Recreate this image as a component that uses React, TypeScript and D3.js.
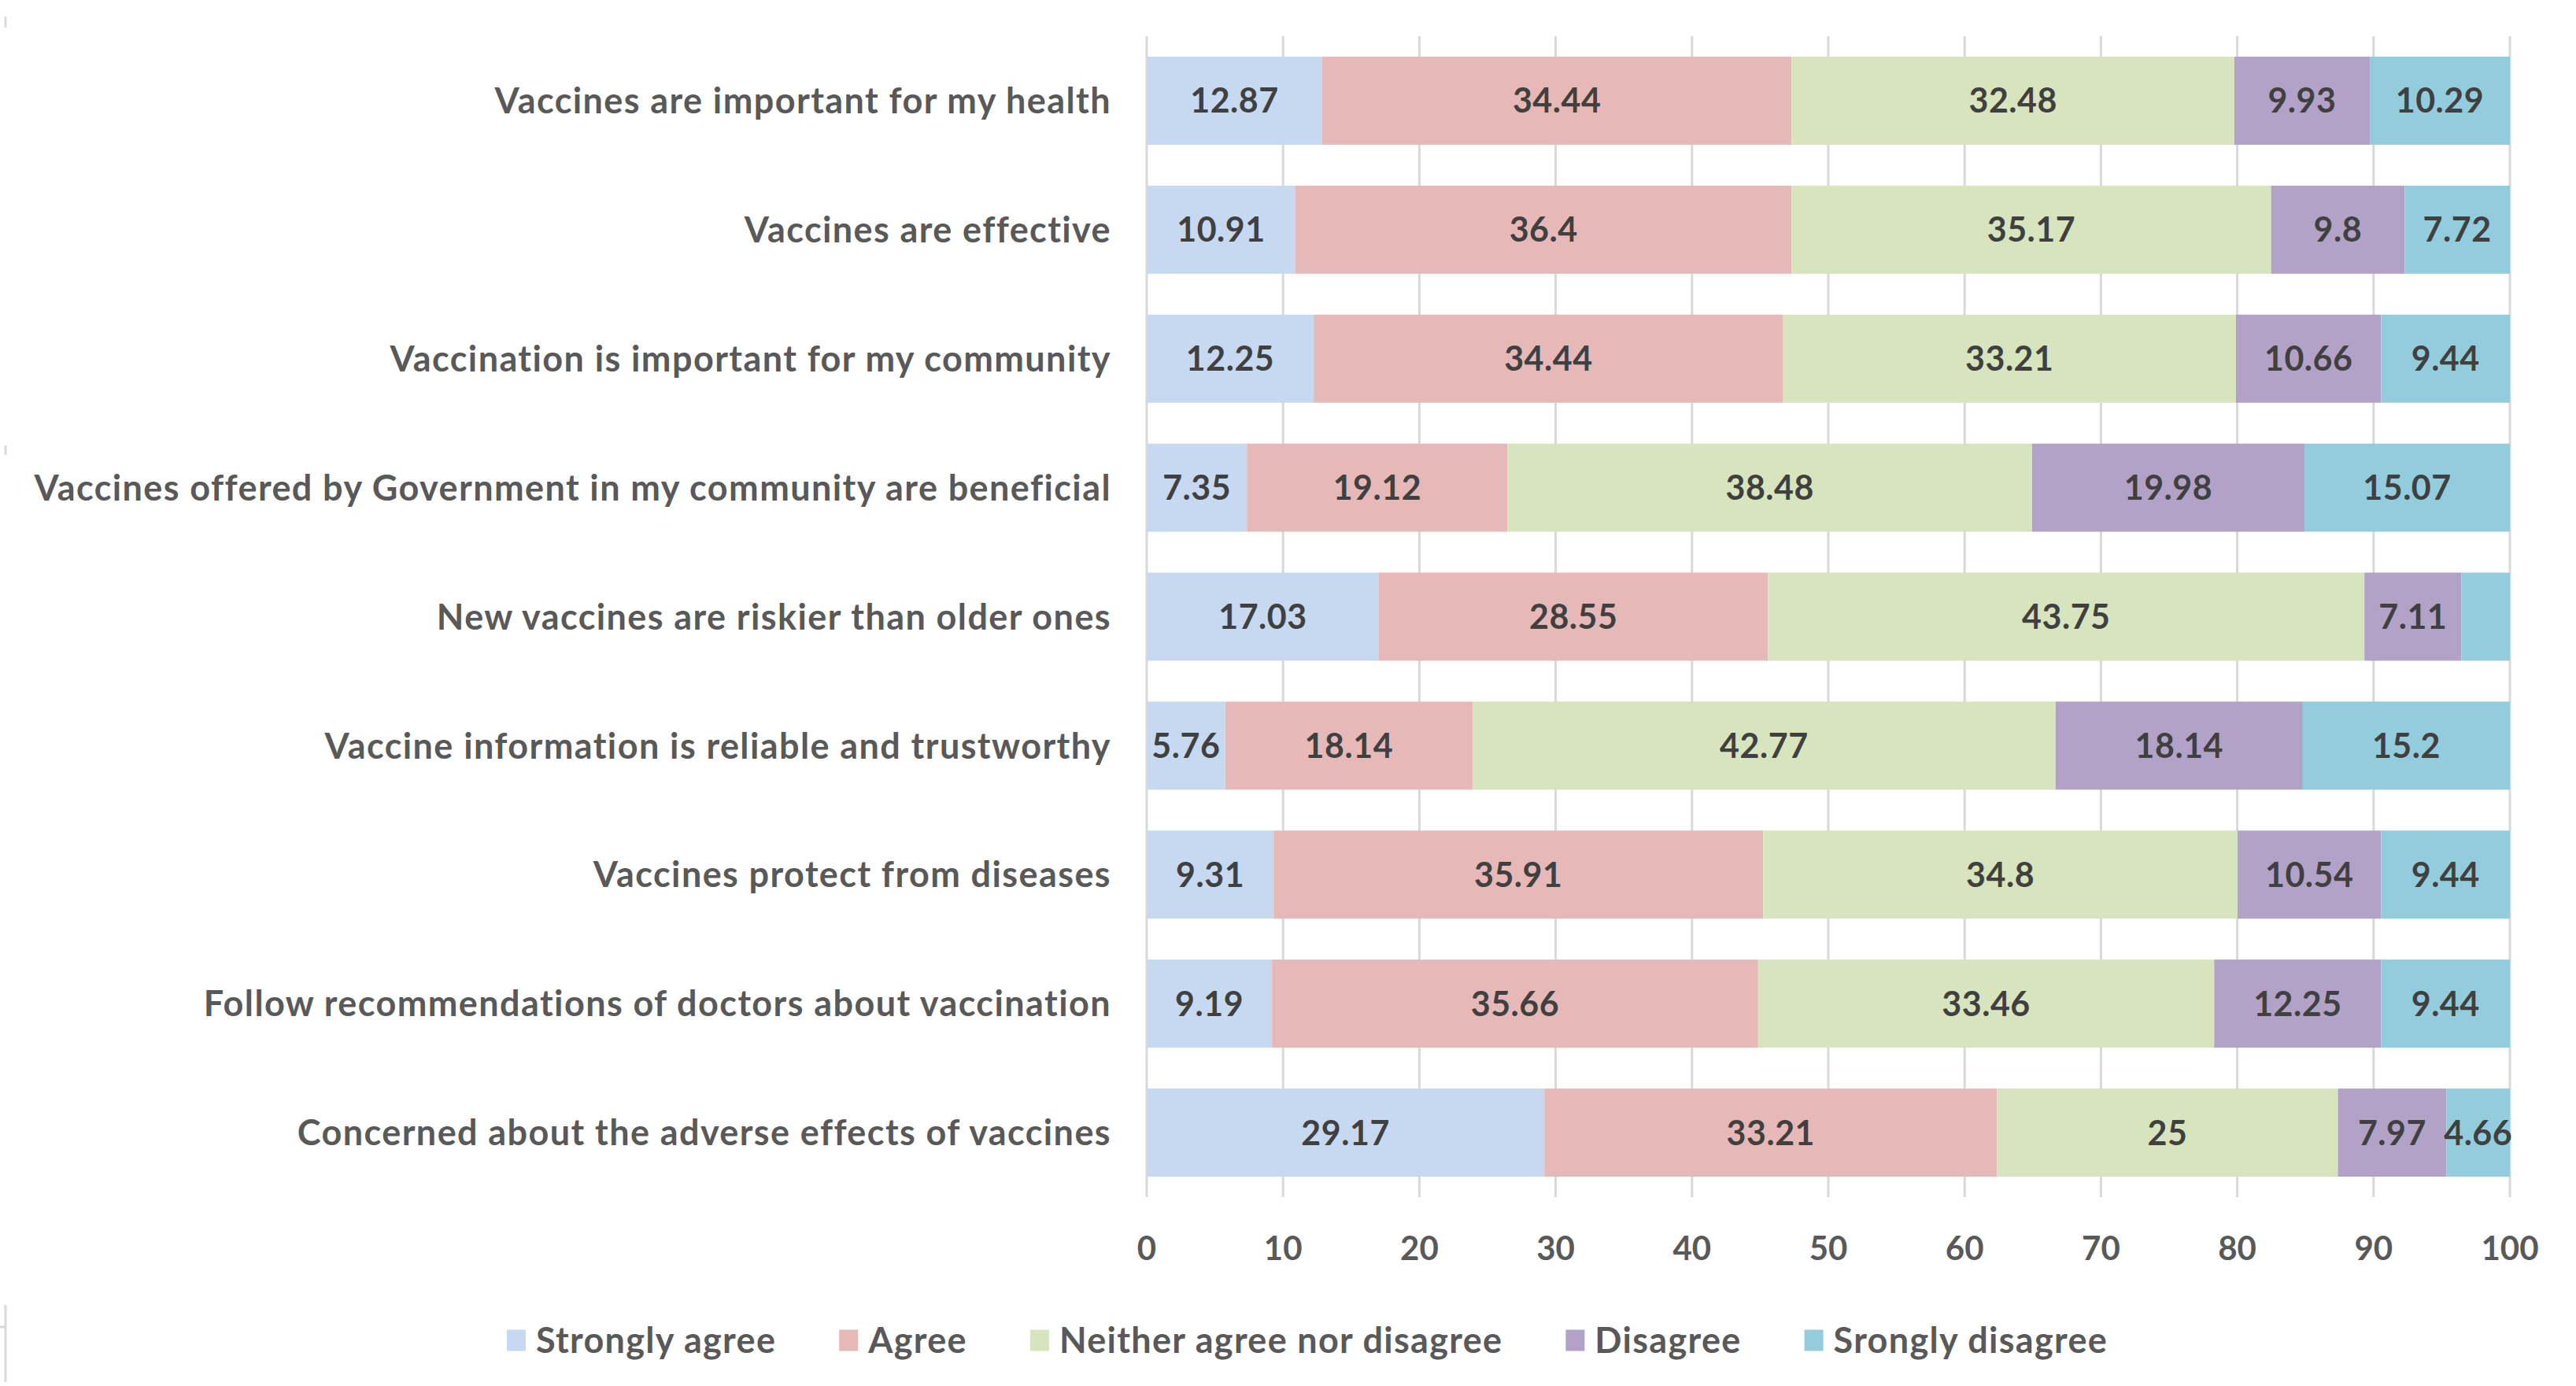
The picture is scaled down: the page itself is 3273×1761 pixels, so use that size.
import React, { useEffect, useRef } from 'react';
import * as d3 from 'd3';

const statements = [
    'Vaccines are important for my health',
    'Vaccines are effective',
    'Vaccination is important for my community',
    'Vaccines offered by Government in my community are beneficial',
    'New vaccines are riskier than older ones',
    'Vaccine information is reliable and trustworthy',
    'Vaccines protect from diseases',
    'Follow recommendations of doctors about vaccination',
    'Concerned about the adverse effects of vaccines',
];

const seriesNames = ['Strongly agree', 'Agree', 'Neither agree nor disagree', 'Disagree', 'Srongly disagree'];
const seriesColors = ['#c6d9f0', '#e6b9b8', '#d7e4bd', '#b3a2c7', '#93cddd'];

const stronglyAgree = [12.87, 10.91, 12.25, 7.35, 17.03, 5.76, 9.31, 9.19, 29.17];
const agree = [34.44, 36.4, 34.44, 19.12, 28.55, 18.14, 35.91, 35.66, 33.21];
const neither = [32.48, 35.17, 33.21, 38.48, 43.75, 42.77, 34.8, 33.46, 25];
const disagree = [9.93, 9.8, 10.66, 19.98, 7.11, 18.14, 10.54, 12.25, 7.97];
const stronglyDisagree = [10.29, 7.72, 9.44, 15.07, 3.56, 15.2, 9.44, 9.44, 4.66];

// labels that were left off in the original chart
const hiddenLabels = [[4, 4]];

const xTicks = [0, 10, 20, 30, 40, 50, 60, 70, 80, 90, 100];

const W = 3273;
const H = 1761;
const FONT = 'Lato, "Open Sans", sans-serif';

export default function App() {
    const svgRef = useRef<SVGSVGElement>(null);

    useEffect(() => {
        const svg = d3.select(svgRef.current);
        svg.selectAll('*').remove();

        const margin = { top: 46, right: 84, bottom: 240, left: 1457 };

        const x = d3.scaleLinear().domain([0, 100]).range([margin.left, margin.left + 1732]);
        const y = d3.scaleBand<string>()
            .domain(statements)
            .range([margin.top, H - margin.bottom])
            .paddingInner(0.317)
            .paddingOuter(0.1585);

        const rows = statements.map((s, i) => ({
            statement: s,
            values: [stronglyAgree[i], agree[i], neither[i], disagree[i], stronglyDisagree[i]],
        }));

        // gridlines
        const grid = svg.append('g');
        grid.selectAll('line')
            .data(xTicks)
            .join('line')
            .attr('x1', d => x(d))
            .attr('x2', d => x(d))
            .attr('y1', margin.top)
            .attr('y2', H - margin.bottom)
            .attr('stroke', '#d9d9d9')
            .attr('stroke-width', 3);

        // stacked bars
        const stack = d3.stack<any>()
            .keys(seriesNames.map((_, k) => String(k)))
            .value((d, key) => d.values[+key]);
        const layers = stack(rows);

        const bars = svg.append('g');
        layers.forEach((layer, k) => {
            const g = bars.append('g').attr('fill', seriesColors[k]);
            g.selectAll('rect')
                .data(layer)
                .join('rect')
                .attr('x', d => x(d[0]))
                .attr('width', d => Math.min(x(d[1]), x(100)) - x(d[0]))
                .attr('y', d => y(d.data.statement)!)
                .attr('height', y.bandwidth());
        });

        // value labels
        const labels = svg.append('g')
            .attr('font-family', FONT)
            .attr('font-weight', 700)
            .attr('font-size', 43)
            .attr('letter-spacing', 0.5)
            .attr('fill', '#404040')
            .attr('text-anchor', 'middle');
        layers.forEach((layer, k) => {
            labels.selectAll(null)
                .data(layer.filter((d, i) => !hiddenLabels.some(h => h[0] === i && h[1] === k)))
                .join('text')
                .attr('x', d => (x(d[0]) + Math.min(x(d[1]), x(100))) / 2)
                .attr('y', d => y(d.data.statement)! + y.bandwidth() / 2)
                .attr('dy', '0.36em')
                .text(d => String(d.data.values[k]));
        });

        // category labels
        svg.append('g')
            .attr('font-family', FONT)
            .attr('font-weight', 700)
            .attr('font-size', 45)
            .attr('letter-spacing', 1.4)
            .attr('fill', '#595959')
            .attr('text-anchor', 'end')
            .selectAll('text')
            .data(statements)
            .join('text')
            .attr('x', margin.left - 45)
            .attr('y', d => y(d)! + y.bandwidth() / 2)
            .attr('dy', '0.36em')
            .text(d => d);

        // x tick labels
        svg.append('g')
            .attr('font-family', FONT)
            .attr('font-weight', 700)
            .attr('font-size', 42)
            .attr('fill', '#595959')
            .attr('text-anchor', 'middle')
            .selectAll('text')
            .data(xTicks)
            .join('text')
            .attr('x', d => x(d))
            .attr('y', 1586)
            .attr('dy', '0.36em')
            .text(d => d);

        // legend, laid out by measured text width and centred
        const legend = svg.append('g')
            .attr('font-family', FONT)
            .attr('font-weight', 700)
            .attr('font-size', 45)
            .attr('letter-spacing', 1.3)
            .attr('fill', '#595959');
        const items = legend.selectAll('g')
            .data(seriesNames)
            .join('g');
        items.append('rect')
            .attr('width', 24)
            .attr('height', 27)
            .attr('y', 1703 - 13.5)
            .attr('fill', (d, i) => seriesColors[i]);
        const texts = items.append('text')
            .attr('x', 37)
            .attr('y', 1703)
            .attr('dy', '0.36em')
            .text(d => d);
        const widths: number[] = [];
        texts.each(function () { widths.push((this as SVGTextElement).getComputedTextLength()); });
        const gap = 80;
        const total = d3.sum(widths) + widths.length * 37 + (widths.length - 1) * gap;
        let cx = 1661 - total / 2;
        items.attr('transform', (d, i) => {
            const t = `translate(${cx},0)`;
            cx += 37 + widths[i] + gap;
            return t;
        });

        // faint edge marks from the source page
        const edge = svg.append('g').attr('stroke', '#d9d9d9').attr('stroke-width', 3);
        edge.append('line').attr('x1', 7).attr('x2', 7).attr('y1', 21).attr('y2', 35);
        edge.append('line').attr('x1', 7).attr('x2', 7).attr('y1', 566).attr('y2', 578);
        edge.append('line').attr('x1', 7).attr('x2', 7).attr('y1', 1658).attr('y2', 1756);
        edge.append('line').attr('x1', 0).attr('x2', 7).attr('y1', 1686).attr('y2', 1686);
    }, []);

    return (
        <svg
            ref={svgRef}
            width={W}
            height={H}
            style={{ position: 'absolute', left: 0, top: 0, background: '#ffffff' }}
        />
    );
}
